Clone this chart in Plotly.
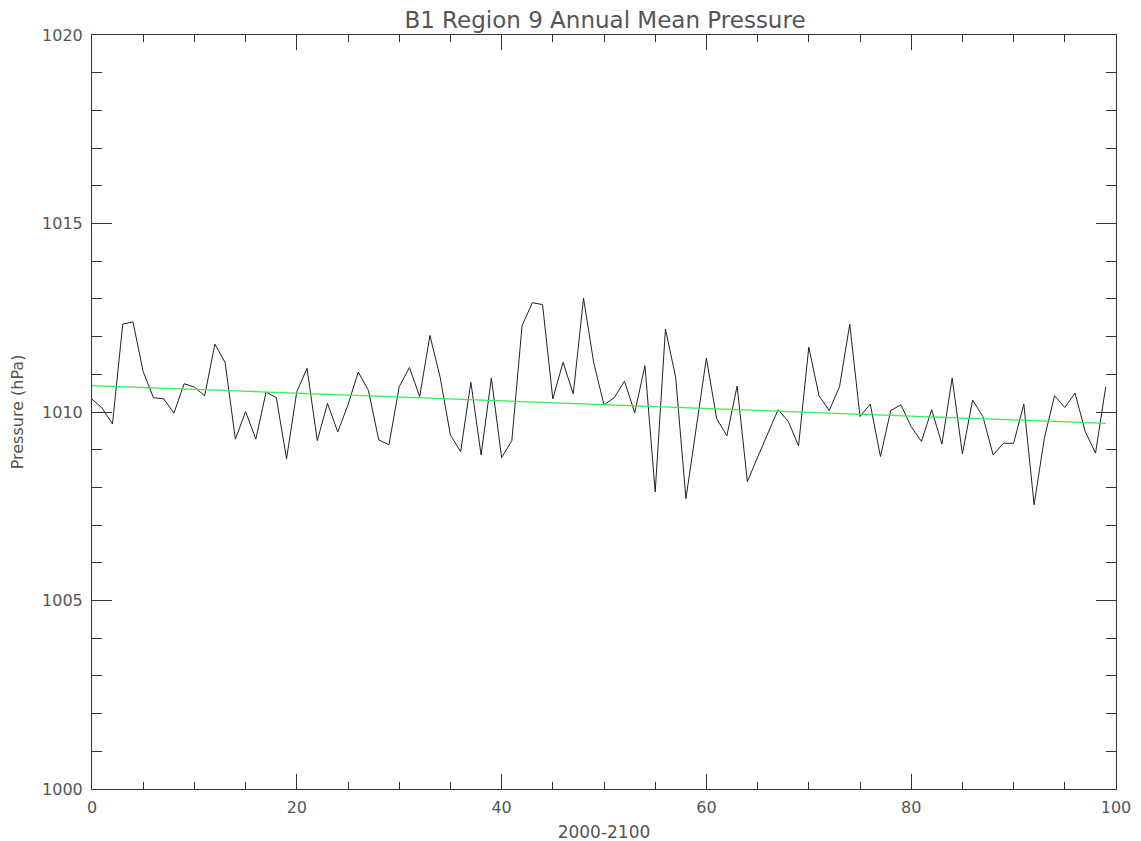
import plotly.graph_objects as go

years = list(range(100))
pressure = [
    1010.34, 1010.10, 1009.68, 1012.33, 1012.39, 1011.07, 1010.38, 1010.35, 1009.97, 1010.75,
    1010.66, 1010.43, 1011.80, 1011.31, 1009.28, 1010.01, 1009.28, 1010.53, 1010.38, 1008.76,
    1010.54, 1011.16, 1009.24, 1010.23, 1009.47, 1010.19, 1011.06, 1010.57, 1009.26, 1009.13,
    1010.67, 1011.18, 1010.41, 1012.03, 1010.92, 1009.39, 1008.95, 1010.79, 1008.86, 1010.90,
    1008.79, 1009.24, 1012.29, 1012.90, 1012.85, 1010.35, 1011.32, 1010.48, 1013.02, 1011.30,
    1010.19, 1010.38, 1010.82, 1009.98, 1011.23, 1007.88, 1012.20, 1010.92, 1007.70, 1009.55,
    1011.43, 1009.83, 1009.37, 1010.69, 1008.15, 1008.80, 1009.44, 1010.06, 1009.75, 1009.10,
    1011.72, 1010.43, 1010.04, 1010.67, 1012.33, 1009.88, 1010.21, 1008.82, 1010.04, 1010.19,
    1009.61, 1009.22, 1010.06, 1009.15, 1010.90, 1008.89, 1010.32, 1009.88, 1008.86, 1009.17,
    1009.17, 1010.21, 1007.54, 1009.30, 1010.43, 1010.12, 1010.50, 1009.48, 1008.91, 1010.67,
]
trend_years = [0, 99]
trend_values = [1010.70, 1009.70]

x_ticks = [0, 20, 40, 60, 80, 100]
y_ticks = [1000, 1005, 1010, 1015, 1020]

FONT = "DejaVu Sans"
TXT = "#555555"

fig = go.Figure()
fig.add_trace(go.Scatter(x=years, y=pressure, mode="lines",
                         line=dict(color="#222222", width=1), showlegend=False))
fig.add_trace(go.Scatter(x=trend_years, y=trend_values, mode="lines",
                         line=dict(color="#33ee55", width=1.2), showlegend=False))

# the page body adds an 8px offset; margins compensate so the axes land where the reference has them
fig.update_layout(
    width=1141, height=841,
    margin=dict(l=84, r=33, t=27, b=60, autoexpand=False),
    paper_bgcolor="white", plot_bgcolor="white",
    font=dict(family=FONT, color=TXT, size=16),
    title=dict(text="B1 Region 9 Annual Mean Pressure", x=0.5232, xanchor="center",
               y=0.9863, yanchor="middle", font=dict(family=FONT, size=23, color=TXT)),
)
fig.update_xaxes(
    range=[0, 100], tickvals=x_ticks, ticktext=[str(v) for v in x_ticks],
    automargin=False,
    showgrid=False, zeroline=False,
    showline=True, linecolor="#333333", linewidth=1, mirror="ticks",
    ticks="inside", ticklen=15, tickcolor="#333333", tickwidth=1,
    minor=dict(ticks="inside", ticklen=7, dtick=5, tickcolor="#333333", tickwidth=1, showgrid=False),
    tickfont=dict(family=FONT, size=16, color=TXT), ticklabelstandoff=4,
    title=dict(text="2000-2100", font=dict(family=FONT, size=17, color=TXT), standoff=9),
)
fig.update_yaxes(
    range=[1000, 1020], tickvals=y_ticks, ticktext=[str(v) for v in y_ticks],
    automargin=False,
    showgrid=False, zeroline=False,
    showline=True, linecolor="#333333", linewidth=1, mirror="ticks",
    ticks="inside", ticklen=20, tickcolor="#333333", tickwidth=1,
    minor=dict(ticks="inside", ticklen=10, dtick=1, tickcolor="#333333", tickwidth=1, showgrid=False),
    tickfont=dict(family=FONT, size=16, color=TXT), ticklabelstandoff=5,
    title=dict(text="Pressure (hPa)", font=dict(family=FONT, size=16, color=TXT), standoff=14),
)

fig.write_html("out.html")
